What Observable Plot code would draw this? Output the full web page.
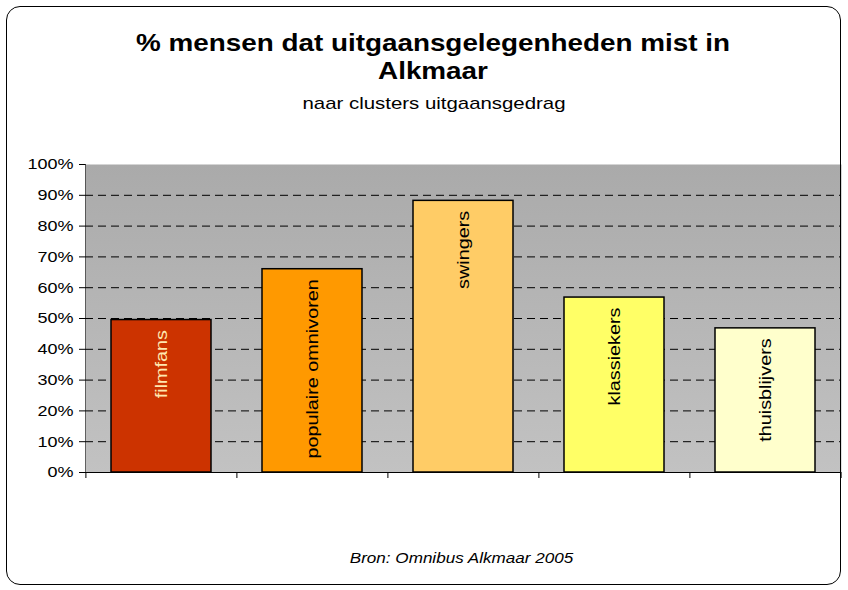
<!DOCTYPE html>
<html>
<head>
<meta charset="utf-8">
<script src="https://cdn.jsdelivr.net/npm/d3@7"></script>
<script src="https://cdn.jsdelivr.net/npm/@observablehq/plot@0.6"></script>
<style>
  html, body { margin: 0; padding: 0; background: #fff; }
  #wrap { position: relative; width: 848px; height: 590px; overflow: hidden; font-family: "Liberation Sans", Arial, sans-serif; color: #000; }
  #border { position: absolute; left: 6px; top: 6px; width: 835px; height: 579px; border: 1.5px solid #000; border-radius: 14px; box-sizing: border-box; }
  .t { position: absolute; left: 0; text-align: center; white-space: nowrap; transform-origin: center; }
  #title { width: 866px; top: 29px; font-weight: bold; font-size: 24px; line-height: 28px; transform: scaleX(1.16); }
  #subtitle { width: 868px; top: 94px; font-size: 17px; line-height: 20px; transform: scaleX(1.2); }
  #caption { width: 923px; top: 550px; font-style: italic; font-size: 14px; line-height: 16px; transform: scaleX(1.22); }
  #chart { position: absolute; left: 0; top: 0; }
</style>
</head>
<body>
<div id="wrap">
  <div id="chart"></div>
  <div id="border"></div>
  <div id="title" class="t">% mensen dat uitgaansgelegenheden mist in<br>Alkmaar</div>
  <div id="subtitle" class="t">naar clusters uitgaansgedrag</div>
  <div id="caption" class="t">Bron: Omnibus Alkmaar 2005</div>
</div>
<script>
const categories = ["filmfans", "populaire omnivoren", "swingers", "klassiekers", "thuisblijvers"];
const values = [0.495, 0.66, 0.882, 0.568, 0.468];
const colors = ["#CC3300", "#FF9900", "#FFCC66", "#FFFF66", "#FFFFCC"];
const labelColors = ["#FFE8B0", "#000", "#000", "#000", "#000"];
const yTicks = [0, 0.1, 0.2, 0.3, 0.4, 0.5, 0.6, 0.7, 0.8, 0.9, 1.0];
const gridTicks = [0.1, 0.2, 0.3, 0.4, 0.5, 0.6, 0.7, 0.8, 0.9];

const data = categories.map((c, i) => ({cat: c, value: values[i], color: colors[i], label: labelColors[i]}));

const W = 848, H = 590;
const mL = 85, mR = 7, mT = 164, mB = 118;
const step = (W - mL - mR) / categories.length;

const chart = Plot.plot({
  width: W,
  height: H,
  marginLeft: mL,
  marginRight: mR,
  marginTop: mT,
  marginBottom: mB,
  style: {fontFamily: "'Liberation Sans', Arial, sans-serif", fontSize: "15px", color: "#000", background: "transparent"},
  x: {domain: categories, paddingInner: 0.34, paddingOuter: 0.17, axis: null},
  y: {domain: [0, 1], ticks: yTicks, tickFormat: d => Math.round(d * 100) + "%", tickSize: 6, tickPadding: 6, label: null, line: true},
  marks: [
    Plot.frame({fill: "url(#bgGrad)", stroke: null}),
    Plot.ruleY(gridTicks, {stroke: "#000", strokeDasharray: "8,5", strokeWidth: 1}),
    Plot.barY(data, {x: "cat", y: "value", fill: "color", stroke: "#000", strokeWidth: 1.5}),
    Plot.text(data, {x: "cat", y: "value", text: "cat", fill: "label", rotate: -90, textAnchor: "end", lineAnchor: "middle", dy: 10, fontSize: 16.5}),
    Plot.ruleY([0], {stroke: "#000", strokeWidth: 1}),
    Plot.ruleX(categories, {x: d => d, y1: 0, y2: 0, insetBottom: -6, dx: -step / 2, stroke: "#000"}),
    Plot.ruleX([categories[categories.length - 1]], {x: d => d, y1: 0, y2: 0, insetBottom: -6, dx: step / 2, stroke: "#000"})
  ]
});

// horizontal stretch of glyphs along the text direction, as in the reference rendering
chart.querySelectorAll("text").forEach(t => {
  const tr = t.getAttribute("transform");
  if (tr) t.setAttribute("transform", tr + " scale(1.2,1)");
});

const ns = "http://www.w3.org/2000/svg";
const defs = document.createElementNS(ns, "defs");
const grad = document.createElementNS(ns, "linearGradient");
grad.setAttribute("id", "bgGrad");
grad.setAttribute("x1", "0"); grad.setAttribute("y1", "0");
grad.setAttribute("x2", "0"); grad.setAttribute("y2", "1");
[["0", "#aaaaaa"], ["1", "#c2c2c2"]].forEach(([o, c]) => {
  const s = document.createElementNS(ns, "stop");
  s.setAttribute("offset", o); s.setAttribute("stop-color", c);
  grad.appendChild(s);
});
defs.appendChild(grad);
chart.insertBefore(defs, chart.firstChild);

document.getElementById("chart").appendChild(chart);
</script>
</body>
</html>
